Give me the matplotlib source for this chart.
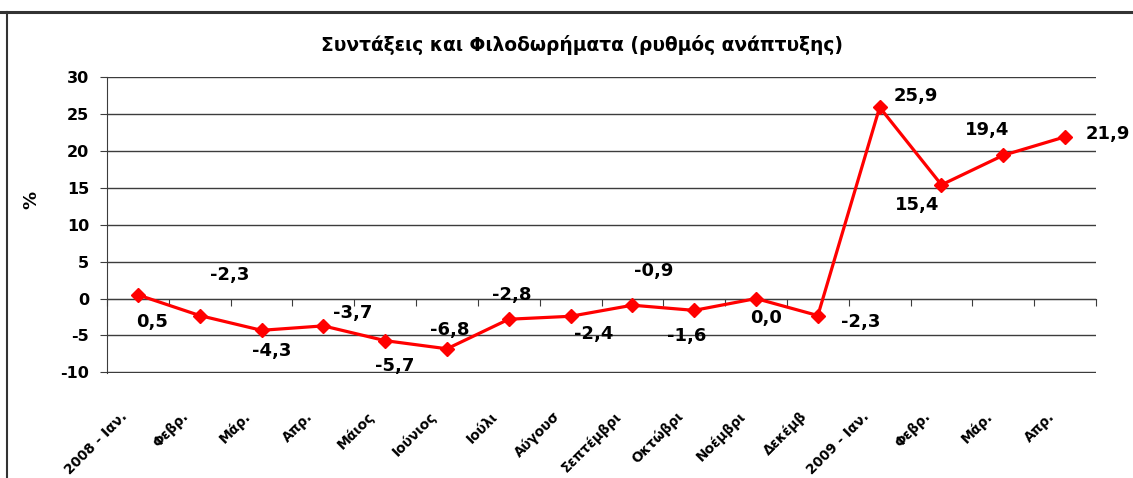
import numpy as np
import matplotlib
matplotlib.use("Agg")
import matplotlib.pyplot as plt
import matplotlib.transforms as mtransforms
from matplotlib.lines import Line2D

## DATA
months = ["2008 - Ιαν.", "Φεβρ.", "Μάρ.", "Απρ.", "Μάιος", "Ιούνιος", "Ιούλι",
          "Αύγουσ", "Σεπτέμβρι", "Οκτώβρι", "Νοέμβρι", "Δεκέμβ",
          "2009 - Ιαν.", "Φεβρ.", "Μάρ.", "Απρ."]
growth = [0.5, -2.3, -4.3, -3.7, -5.7, -6.8, -2.8, -2.4, -0.9, -1.6, 0.0, -2.3,
          25.9, 15.4, 19.4, 21.9]
yticks = [-10, -5, 0, 5, 10, 15, 20, 25, 30]

# label offsets in pixels (dx, dy) from each point
offs = [(14, -27), (30, 41), (10, -21), (29, 13), (10, -25), (3, 19), (3, 24),
        (23, -18), (21, 34), (-8, -26), (10, -19), (43, -6),
        (36, 11), (-24, -20), (-16, 25), (43, 3)]

RED = "#ff0000"
GRID = "#3c3c3c"

## FIGURE
fig = plt.figure(figsize=(11.33, 4.78), dpi=100)
ax = fig.add_axes([107/1133, 1-373/478, (1096-107)/1133, (373-77)/478])

x = np.arange(len(growth))
ax.plot(x, growth, color=RED, lw=2.3, marker="D", ms=7, zorder=3)

for xi, v, (dx, dy) in zip(x, growth, offs):
    ax.annotate(f"{v:.1f}".replace(".", ","), (xi, v), xytext=(dx, dy),
                textcoords="offset pixels", ha="center", va="center",
                fontsize=13, fontweight="bold", color="black")

ax.set_xlim(-0.5, len(growth) - 0.5)
ax.set_ylim(-10.08, 30)
ax.set_yticks(yticks)
ax.set_yticklabels([str(t) for t in yticks], fontsize=11.5, fontweight="bold")
ax.tick_params(axis="y", direction="out", length=5, color=GRID, pad=8)
ax.yaxis.grid(True, color=GRID, lw=1)
ax.set_axisbelow(True)

for s in ["top", "right", "bottom"]:
    ax.spines[s].set_visible(False)
ax.spines["left"].set_color(GRID)

# category labels at the bottom
ax.set_xticks(x)
ax.set_xticklabels(months, rotation=45, ha="right", rotation_mode="anchor",
                   fontsize=9.8, fontweight="bold")
ax.tick_params(axis="x", length=0, pad=26)
shift = mtransforms.ScaledTranslation(-18/100, 0, fig.dpi_scale_trans)
for lab in ax.get_xticklabels():
    lab.set_transform(lab.get_transform() + shift)

# zero line with category boundary ticks
zero = ax.secondary_xaxis((0 - (-10.08)) / 40.08)
zero.set_xticks(np.arange(len(growth) + 1) - 0.5)
zero.set_xticklabels([])
zero.tick_params(direction="out", length=5, color=GRID)
zero.spines["bottom"].set_color(GRID)

fig.text(31/1133, 1-200/478, "%", rotation=90, ha="center", va="center",
         fontsize=13, fontweight="bold")

fig.text(582/1133, 1-45/478, "Συντάξεις και Φιλοδωρήματα (ρυθμός ανάπτυξης)",
         ha="center", va="center", fontsize=13.4, fontweight="bold")

# outer frame
fig.add_artist(Line2D([0, 1], [1-12/478, 1-12/478], color="#333333", lw=2.2,
                      transform=fig.transFigure))
fig.add_artist(Line2D([7/1133, 7/1133], [0, 1-12/478], color="#333333", lw=1.5,
                      transform=fig.transFigure))

fig.savefig("out.png", dpi=100, facecolor="white")
